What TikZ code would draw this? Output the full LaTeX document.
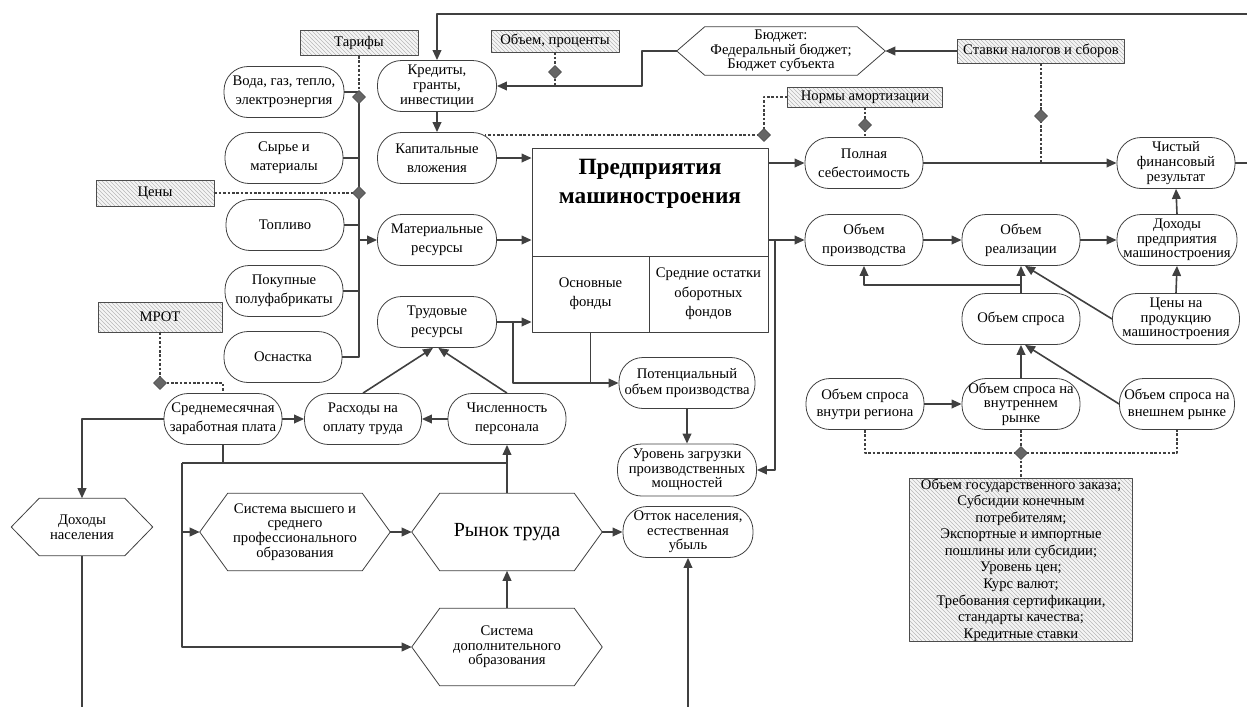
\documentclass[tikz,border=0pt]{standalone}
\usepackage{fontspec}
\setmainfont{Liberation Serif}
\usetikzlibrary{arrows.meta,shapes.geometric,patterns}

\tikzset{
  base/.style={font=\fontsize{11}{14}\selectfont, align=center, inner sep=0pt},
  tight/.style={font=\fontsize{11}{11}\selectfont},
  stad/.style={base, draw=black!75, line width=0.6pt, fill=white, rounded corners=18pt,
    minimum width=88.5pt, minimum height=38.25pt},
  hatch/.style={base, draw=black!70, line width=0.6pt, preaction={fill=gray!8},
    pattern=north west lines, pattern color=gray!55},
  hexa/.style={base, tight},
  cell/.style={base, draw=black!75, line width=0.6pt, font=\fontsize{11}{14.5}\selectfont},
  dmd/.style={diamond, draw=black!70, fill=black!60, inner sep=0pt, minimum size=10pt},
  link/.style={draw=black!75, line width=1.2pt},
  dsh/.style={draw=black!75, line width=1pt, dash pattern=on 2pt off 1.3pt},
}

\begin{document}
\begin{tikzpicture}[x=0.75pt,y=-0.75pt,>={Triangle[length=7.5pt,width=6.5pt]},line join=round]
\useasboundingbox (0,0) rectangle (1247,707);

% resources on the left
\node[hatch, minimum width=88.5pt, minimum height=18.75pt] (tarify) at (359,43) {Тарифы};
\node[hatch, minimum width=88.5pt, minimum height=19.5pt] (ceny) at (155,193) {Цены};
\node[hatch, minimum width=93pt, minimum height=22.5pt] (mrot) at (160,317) {МРОТ};
\node[stad, minimum width=90pt] (voda) at (284,92) {Вода, газ, тепло,\\электроэнергия};
\node[stad] (syrye) at (284,158) {Сырье и\\материалы};
\node[stad] (toplivo) at (285,225) {Топливо};
\node[stad] (pokup) at (284,291) {Покупные\\полуфабрикаты};
\node[stad] (osnast) at (283,357) {Оснастка};

% inputs of the enterprise
\node[stad, tight, minimum width=89.25pt] (kredit) at (437,86) {Кредиты,\\гранты,\\инвестиции};
\node[stad, minimum width=89.25pt] (kapvl) at (437,158) {Капитальные\\вложения};
\node[stad, minimum width=89.25pt] (matres) at (437,240) {Материальные\\ресурсы};
\node[stad, minimum width=89.25pt] (trudres) at (437,322) {Трудовые\\ресурсы};
\node[hatch, minimum width=96pt, minimum height=16.5pt] (obproc) at (555,41) {Объем, проценты};
\node[hexa, minimum width=156pt, minimum height=36pt] (budget) at (781,51) {Бюджет:\\Федеральный бюджет;\\Бюджет субъекта};
\node[hatch, minimum width=125pt, minimum height=18pt] (stavki) at (1041,51) {Ставки налогов и сборов};
\node[hatch, minimum width=116pt, minimum height=15pt] (normy) at (865,97) {Нормы амортизации};

% enterprise
\node[cell, minimum width=177pt, minimum height=81pt] (predtop) at (650,202) {};
\node[base, font=\fontsize{17.5}{21.5}\selectfont\bfseries] (predname) at (650,184) {Предприятия\\машиностроения};
\node[cell, minimum width=87.75pt, minimum height=57pt] (osnfond) at (590.5,294) {Основные\\фонды};
\node[cell, minimum width=89.25pt, minimum height=57pt] (sredost) at (708.5,294) {Средние остатки\\оборотных\\фондов};
\node[stad, minimum width=102pt, font=\fontsize{11}{12}\selectfont] (potent) at (687,383) {Потенциальный\\объем производства};
\node[stad, tight, minimum width=104.25pt, minimum height=39pt] (uroven) at (687,470) {Уровень загрузки\\производственных\\мощностей};

% results and market
\node[stad] (polnaya) at (864,163) {Полная\\себестоимость};
\node[stad, tight] (chisty) at (1176,163) {Чистый\\финансовый\\результат};
\node[stad] (obproizv) at (864,240) {Объем\\производства};
\node[stad] (obreal) at (1021,240) {Объем\\реализации};
\node[stad, tight, minimum width=90pt] (dohpred) at (1177,240) {Доходы\\предприятия\\машиностроения};
\node[stad] (obspros) at (1021,319) {Объем спроса};
\node[stad, tight, minimum width=95.25pt] (cenyprod) at (1176,319) {Цены на\\продукцию\\машиностроения};
\node[stad, font=\fontsize{11}{13}\selectfont] (vnutrreg) at (865,404) {Объем спроса\\внутри региона};
\node[stad, tight] (vnutrr) at (1021,404) {Объем спроса на\\внутреннем\\рынке};
\node[stad, minimum width=86.25pt, font=\fontsize{11}{13}\selectfont] (vnesh) at (1177,404) {Объем спроса на\\внешнем рынке};
\node[hatch, minimum width=167pt, minimum height=118.5pt, font=\fontsize{11}{12.4}\selectfont] (gosbox) at (1021,560)
  {Объем государственного заказа;\\Субсидии конечным\\потребителям;\\Экспортные и импортные\\пошлины или субсидии;\\Уровень цен;\\Курс валют;\\Требования сертификации,\\стандарты качества;\\Кредитные ставки};

% labour
\node[stad] (sredzp) at (223,419) {Среднемесячная\\заработная плата};
\node[stad, minimum width=87.75pt] (rashod) at (363,419) {Расходы на\\оплату труда};
\node[stad] (chisl) at (507,419) {Численность\\персонала};
\node[hexa, minimum width=105.75pt, minimum height=42.75pt] (dohpop) at (82,527) {Доходы\\населения};
\node[hexa, minimum width=142.5pt, minimum height=57.75pt] (sysvys) at (295,532) {Система высшего и\\среднего\\профессионального\\образования};
\node[hexa, minimum width=142.5pt, minimum height=57.75pt, font=\fontsize{15}{18}\selectfont] (rynok) at (507,532) {Рынок труда};
\node[hexa, minimum width=142.5pt, minimum height=57.75pt] (sysdop) at (507,647) {Система\\дополнительного\\образования};
\node[stad, tight, minimum width=97.5pt] (ottok) at (688,532) {Отток населения,\\естественная\\убыль};

\foreach \n in {budget,dohpop,sysvys,rynok,sysdop}
  \draw[black!75, line width=0.6pt] (\n.west) -- ([xshift=21pt]\n.north west) -- ([xshift=-21pt]\n.north east)
    -- (\n.east) -- ([xshift=-21pt]\n.south east) -- ([xshift=21pt]\n.south west) -- cycle;

% free ends and junctions
\coordinate (topR) at (1247,14);
\coordinate (rgtR) at (1247,163);
\coordinate (botL) at (82,707);
\coordinate (botM) at (688,707);
\coordinate (jtar) at (359,97);
\coordinate (jcen) at (359,193);
\coordinate (jmrot) at (160,383);
\coordinate (jobp) at (555,72);
\coordinate (jam) at (764,135);
\coordinate (kapvlR) at (485,135);
\coordinate (jnorm) at (865,125);
\coordinate (jstav) at (1041,116);
\coordinate (jdem) at (1021,453);
\coordinate (jur) at (775,240);
\coordinate (jedu) at (182,463);
\coordinate (jlab) at (507,463);

% material inputs
\draw[dsh] (tarify.south) -- (jtar);
\draw[link] (jtar) |- (osnast.east);
\foreach \n in {voda,syrye,toplivo,pokup}
  \draw[link] (\n.east) -- (\n -| jtar);
\draw[dsh] (ceny.east) -- (jcen);
\draw[link,->] (matres -| jtar) -- (matres.west);

% investment
\draw[link,->] (topR) -| (kredit.north);
\draw[link,->] (budget.west) -- ++(-35,0) |- (kredit.east);
\draw[dsh] (obproc.south) -- (obproc.south |- kredit.east);
\draw[link,->] (stavki.west) -- (budget.east);
\draw[link,->] (kredit.south) -- (kapvl.north);
\draw[dsh] (normy.west) -| (jam) -- (kapvlR);
\draw[dsh] (normy.south) -- (normy.south |- polnaya.north);
\draw[dsh] (stavki.south) -- (stavki.south |- polnaya);

% enterprise
\draw[link,->] (kapvl.east) -- (kapvl -| predtop.west);
\draw[link,->] (matres.east) -- (matres -| predtop.west);
\draw[link,->] (trudres.east) -- (trudres -| osnfond.west);
\draw[link,->] (polnaya -| predtop.east) -- (polnaya.west);
\draw[link,->] (obproizv -| predtop.east) -- (obproizv.west);
\draw[link,->] (jur) |- (uroven.east);
\draw[link,->] ([xshift=12pt]trudres.east) |- (potent.west);
\draw[link] (osnfond.south) -- (osnfond.south |- potent);
\draw[link,->] (potent.south) -- (uroven.north);

% results
\draw[link,->] (polnaya.east) -- (chisty.west);
\draw[link] (chisty.east) -- (rgtR);
\draw[link,->] (dohpred.north) -- (chisty.south);
\draw[link,->] (obproizv.east) -- (obreal.west);
\draw[link,->] (obreal.east) -- (dohpred.west);
\draw[link,->] (obspros.north) -- (obreal.south);
\draw[link,->] ([yshift=6pt]obspros.north) -| (obproizv.south);
\draw[link,->] (cenyprod.north) -- (dohpred.south);
\draw[link,->] (cenyprod.west) -- ([xshift=3pt]obreal.south);
\draw[link,->] (vnutrreg.east) -- (vnutrr.west);
\draw[link,->] (vnutrr.north) -- (obspros.south);
\draw[link,->] (vnesh.west) -- ([xshift=3pt]obspros.south);
\draw[dsh] (vnutrreg.south) |- (jdem) -| (vnesh.south);
\draw[dsh] (vnutrr.south) -- (gosbox.north);

% labour
\draw[dsh] (mrot.south) -- (jmrot) -| (sredzp.north);
\draw[link,->] (sredzp.east) -- (rashod.west);
\draw[link,->] (chisl.west) -- (rashod.east);
\draw[link,->] (rashod.north) -- ([xshift=-3pt]trudres.south);
\draw[link,->] (chisl.north) -- ([xshift=1pt]trudres.south);
\draw[link,->] (sredzp.west) -| (dohpop.north);
\draw[link] (dohpop.south) -- (botL);
\draw[link] (sredzp.south) -- (sredzp.south |- jlab);
\draw[link] (jedu) -- (jlab);
\draw[link,->] (rynok.north) -- (chisl.south);
\draw[link,->] (jedu) |- (sysvys.west);
\draw[link,->] (jedu) |- (sysdop.west);
\draw[link,->] (sysvys.east) -- (rynok.west);
\draw[link,->] (sysdop.north) -- (rynok.south);
\draw[link,->] (rynok.east) -- (ottok.west);
\draw[link,->] (botM) -- (ottok.south);

\foreach \c in {jtar,jcen,jmrot,jobp,jam,jnorm,jstav,jdem}
  \node[dmd] (m\c) at (\c) {};
\end{tikzpicture}
\end{document}
